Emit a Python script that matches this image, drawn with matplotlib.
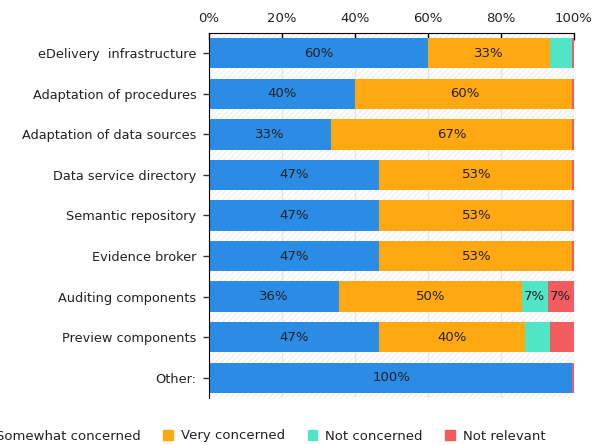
import matplotlib
matplotlib.use("Agg")
import matplotlib.pyplot as plt
from matplotlib.patches import Rectangle
import numpy as np

categories = ["eDelivery  infrastructure", "Adaptation of procedures", "Adaptation of data sources",
              "Data service directory", "Semantic repository", "Evidence broker",
              "Auditing components", "Preview components", "Other:"]
series = ["Somewhat concerned", "Very concerned", "Not concerned", "Not relevant"]
somewhat = [60.0, 40.0, 33.3, 46.7, 46.7, 46.7, 35.7, 46.7, 100.0]
very = [33.3, 60.0, 66.7, 53.3, 53.3, 53.3, 50.0, 40.0, 0.0]
notc = [6.7, 0.0, 0.0, 0.0, 0.0, 0.0, 7.1, 6.7, 0.0]
notr = [0.0, 0.0, 0.0, 0.0, 0.0, 0.0, 7.1, 6.7, 0.0]
colors = ["#2b8ce5", "#ffa812", "#4fe5c5", "#f25c5f"]
xticks = [0, 20, 40, 60, 80, 100]

plt.rcParams['font.family'] = ['DejaVu Sans']
fig = plt.figure(figsize=(5.95, 4.45), dpi=100)
ax = fig.add_axes([209/595, 1-398/445, 365/595, 365/445])

bg = Rectangle((0, 0), 1, 1, transform=ax.transAxes, facecolor='white',
               edgecolor='#f0f0f0', hatch='//////', linewidth=0, zorder=0)
ax.add_patch(bg)

y = np.arange(len(categories))
left = np.zeros(len(categories))
for vals, col in zip([somewhat, very, notc, notr], colors):
    vals = np.array(vals)
    ax.barh(y, vals, left=left, height=0.75, color=col, zorder=3)
    for yi, v, l in zip(y, vals, left):
        if v >= 7:
            ax.text(l + v/2, yi, f"{v:.0f}%", ha='center', va='center',
                    fontsize=9.5, color='#222222', zorder=4)
    left = left + vals
# thin red end marks where not relevant is 0 (rendering sliver)
for yi, l in zip(y, left):
    if l >= 99.9 and notr[yi] == 0:
        ax.barh(yi, 0.5, left=99.5, height=0.75, color=colors[3], zorder=3)

ax.set_xlim(0, 100)
ax.set_ylim(8.5, -0.5)
ax.set_yticks(y)
ax.set_yticklabels(categories, fontsize=9.3, color='#222222')
ax.xaxis.tick_top()
ax.set_xticks(xticks)
ax.set_xticklabels([f"{t}%" for t in xticks], fontsize=9.5, color='#222222')
ax.tick_params(axis='x', direction='in', length=5, width=1, pad=6, color='black')
ax.tick_params(axis='y', length=4, width=1, pad=5, color='#333333')
ax.grid(axis='x', color='#e4e4e4', linewidth=1, zorder=1)
ax.set_axisbelow(True)
for s in ['right', 'bottom']:
    ax.spines[s].set_visible(False)
ax.spines['top'].set_color('black')
ax.spines['left'].set_color('black')
ax.spines['top'].set_zorder(5)
ax.spines['left'].set_zorder(5)

handles = [Rectangle((0, 0), 1, 1, color=c) for c in colors]
fig.legend(handles, series, loc='center', bbox_to_anchor=(262/595, 1-436/445),
           ncol=4, frameon=False, fontsize=9.5, handlelength=0.75, handleheight=0.75,
           handletextpad=0.6, columnspacing=1.7, labelcolor='#222222')

fig.savefig("out.png", dpi=100)
